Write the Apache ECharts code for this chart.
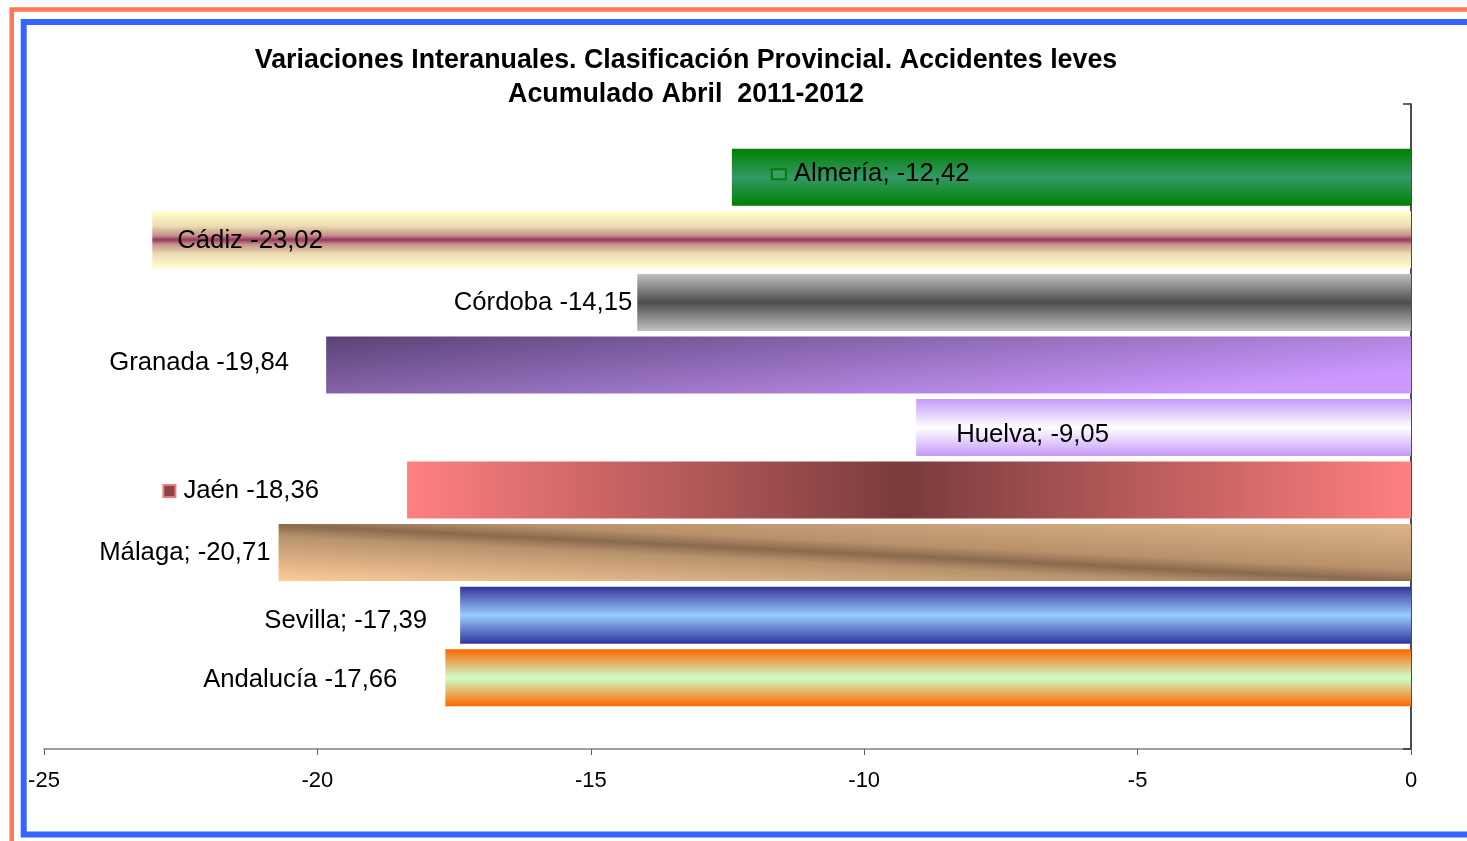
<!DOCTYPE html>
<html>
<head>
<meta charset="utf-8">
<title>Variaciones Interanuales - Accidentes leves</title>
<script src="https://cdn.jsdelivr.net/npm/echarts@6/dist/echarts.min.js"></script>
<style>
  html, body { margin: 0; padding: 0; background: #fff; }
  #chart { width: 1467px; height: 841px; }
</style>
</head>
<body>
<!-- contenedor del gráfico -->
<div id="chart"></div>
<script>
// datos
const provincias = ["Almería", "Cádiz", "Córdoba", "Granada", "Huelva", "Jaén", "Málaga", "Sevilla", "Andalucía"];
const variaciones = [-12.42, -23.02, -14.15, -19.84, -9.05, -18.36, -20.71, -17.39, -17.66];
const separadores = ["; ", " ", " ", " ", "; ", " ", "; ", "; ", " "];
const ejeMin = -25;
const ejeMax = 0;
const ejeIntervalo = 5;

// degradados de cada barra (estilo, no datos)
const vert = (a, b) => ({
  type: "linear", x: 0, y: 0, x2: 0, y2: 1,
  colorStops: [{ offset: 0, color: a }, { offset: 0.5, color: b }, { offset: 1, color: a }],
});
const rellenos = [
  vert("#008000", "#339966"),
  {
    type: "linear", x: 0, y: 0, x2: 0, y2: 1,
    colorStops: [
      { offset: 0, color: "#FFFFCC" }, { offset: 0.25, color: "#EEDDB4" },
      { offset: 0.42, color: "#C49488" }, { offset: 0.5, color: "#993366" },
      { offset: 0.58, color: "#C49488" }, { offset: 0.75, color: "#EEDDB4" },
      { offset: 1, color: "#FFFFCC" },
    ],
  },
  vert("#C0C0C0", "#4D4D4D"),
  {
    type: "linear", x: 0, y: 0, x2: 0.0145, y2: 2.6,
    colorStops: [{ offset: 0, color: "#5A4276" }, { offset: 1, color: "#CC99FF" }],
  },
  vert("#C69AF8", "#FFFFFF"),
  {
    type: "linear", x: 0, y: 0, x2: 1, y2: 0,
    colorStops: [{ offset: 0, color: "#FF8080" }, { offset: 0.495, color: "#7A3B3B" }, { offset: 1, color: "#FF8080" }],
  },
  {
    type: "linear", x: 1, y: 0, x2: 0.995, y2: 2.0,
    colorStops: [
      { offset: 0, color: "#DDB489" }, { offset: 0.4, color: "#B8916C" },
      { offset: 0.5, color: "#8A6A4C" }, { offset: 0.6, color: "#B8936E" },
      { offset: 1, color: "#FFCC99" },
    ],
  },
  vert("#333399", "#99CCFF"),
  vert("#FF6600", "#CCFFCC"),
];

// posición de las etiquetas (movidas a mano en el original)
const etiquetas = [
  { position: "insideLeft", distance: 41, offset: [0, -3], clave: "kv" },
  { position: "insideLeft", distance: 25, offset: [0, 1] },
  { position: "left", distance: 5, offset: [0, 1] },
  { position: "left", distance: 37, offset: [0, -2] },
  { position: "insideLeft", distance: 40, offset: [0, 7] },
  { position: "left", distance: 88, offset: [0, 1], clave: "kj" },
  { position: "left", distance: 8, offset: [0, 0] },
  { position: "left", distance: 33, offset: [0, 6] },
  { position: "left", distance: 48, offset: [0, 2] },
];

const fmt = (v) => v.toFixed(2).replace(".", ",");

const datos = variaciones.map((v, i) => {
  const et = etiquetas[i];
  const texto = provincias[i] + separadores[i] + fmt(v);
  return {
    value: v,
    itemStyle: { color: rellenos[i] },
    label: {
      position: et.position,
      distance: et.distance,
      offset: et.offset,
      formatter: et.clave ? "{" + et.clave + "|}{t|" + texto + "}" : texto,
    },
  };
});

var myChart = echarts.init(document.getElementById("chart"));

myChart.setOption({
  animation: false,
  title: {
    text: "Variaciones Interanuales. Clasificación Provincial. Accidentes leves\nAcumulado Abril  2011-2012",
    left: 681,
    top: 39,
    textAlign: "center",
    textStyle: {
      fontFamily: "Liberation Sans, Arial, sans-serif",
      fontWeight: "bold",
      fontSize: 26.8,
      lineHeight: 34,
      color: "#000",
    },
  },
  // marcos de colores
  graphic: [
    {
      type: "rect", silent: true,
      shape: { x: 11.7, y: 9.5, width: 2000, height: 2000 },
      style: { fill: null, stroke: "#FF7755", lineWidth: 4.5 },
    },
    {
      type: "rect", silent: true,
      shape: { x: 23.7, y: 22, width: 2000, height: 812.5 },
      style: { fill: null, stroke: "#3366FF", lineWidth: 6 },
    },
  ],
  grid: [
    // barras
    { left: 44, right: 56, top: 146, bottom: 132 },
    // ejes
    { left: 44, right: 56, top: 104, bottom: 92 },
  ],
  xAxis: [
    { gridIndex: 0, type: "value", min: ejeMin, max: ejeMax, show: false },
    {
      gridIndex: 1, type: "value", min: ejeMin, max: ejeMax, interval: ejeIntervalo,
      axisLine: { show: true, onZero: false, lineStyle: { color: "#808080", width: 1.5 } },
      axisTick: { show: true, length: 6, lineStyle: { color: "#606060" } },
      axisLabel: {
        margin: 21,
        fontSize: 22,
        color: "#000",
        fontFamily: "Liberation Sans, Arial, sans-serif",
      },
      splitLine: { show: false },
    },
  ],
  yAxis: [
    { gridIndex: 0, type: "category", data: provincias, inverse: true, show: false },
    {
      gridIndex: 1, type: "value", min: 0, max: 1, interval: 1, position: "right",
      axisLine: { show: true, onZero: false, lineStyle: { color: "#111", width: 1.5 } },
      axisTick: { show: true, inside: true, length: 8, lineStyle: { color: "#333", width: 1.5 } },
      axisLabel: { show: false },
      splitLine: { show: false },
    },
  ],
  series: [
    {
      type: "bar",
      xAxisIndex: 0,
      yAxisIndex: 0,
      barWidth: 57,
      data: datos,
      label: {
        show: true,
        color: "#000",
        fontSize: 25.7,
        fontFamily: "Liberation Sans, Arial, sans-serif",
        rich: {
          t: { fontSize: 25.7, color: "#000", fontFamily: "Liberation Sans, Arial, sans-serif", padding: [0, 0, 0, 9] },
          kv: { width: 12, height: 8, backgroundColor: "#3A9E66", borderColor: "#008000", borderWidth: 2 },
          kj: { width: 10, height: 10, backgroundColor: "#8A4444", borderColor: "#F07878", borderWidth: 2 },
        },
      },
    },
  ],
});

window.addEventListener("resize", () => {
  myChart.resize();
});
</script>
</body>
</html>
